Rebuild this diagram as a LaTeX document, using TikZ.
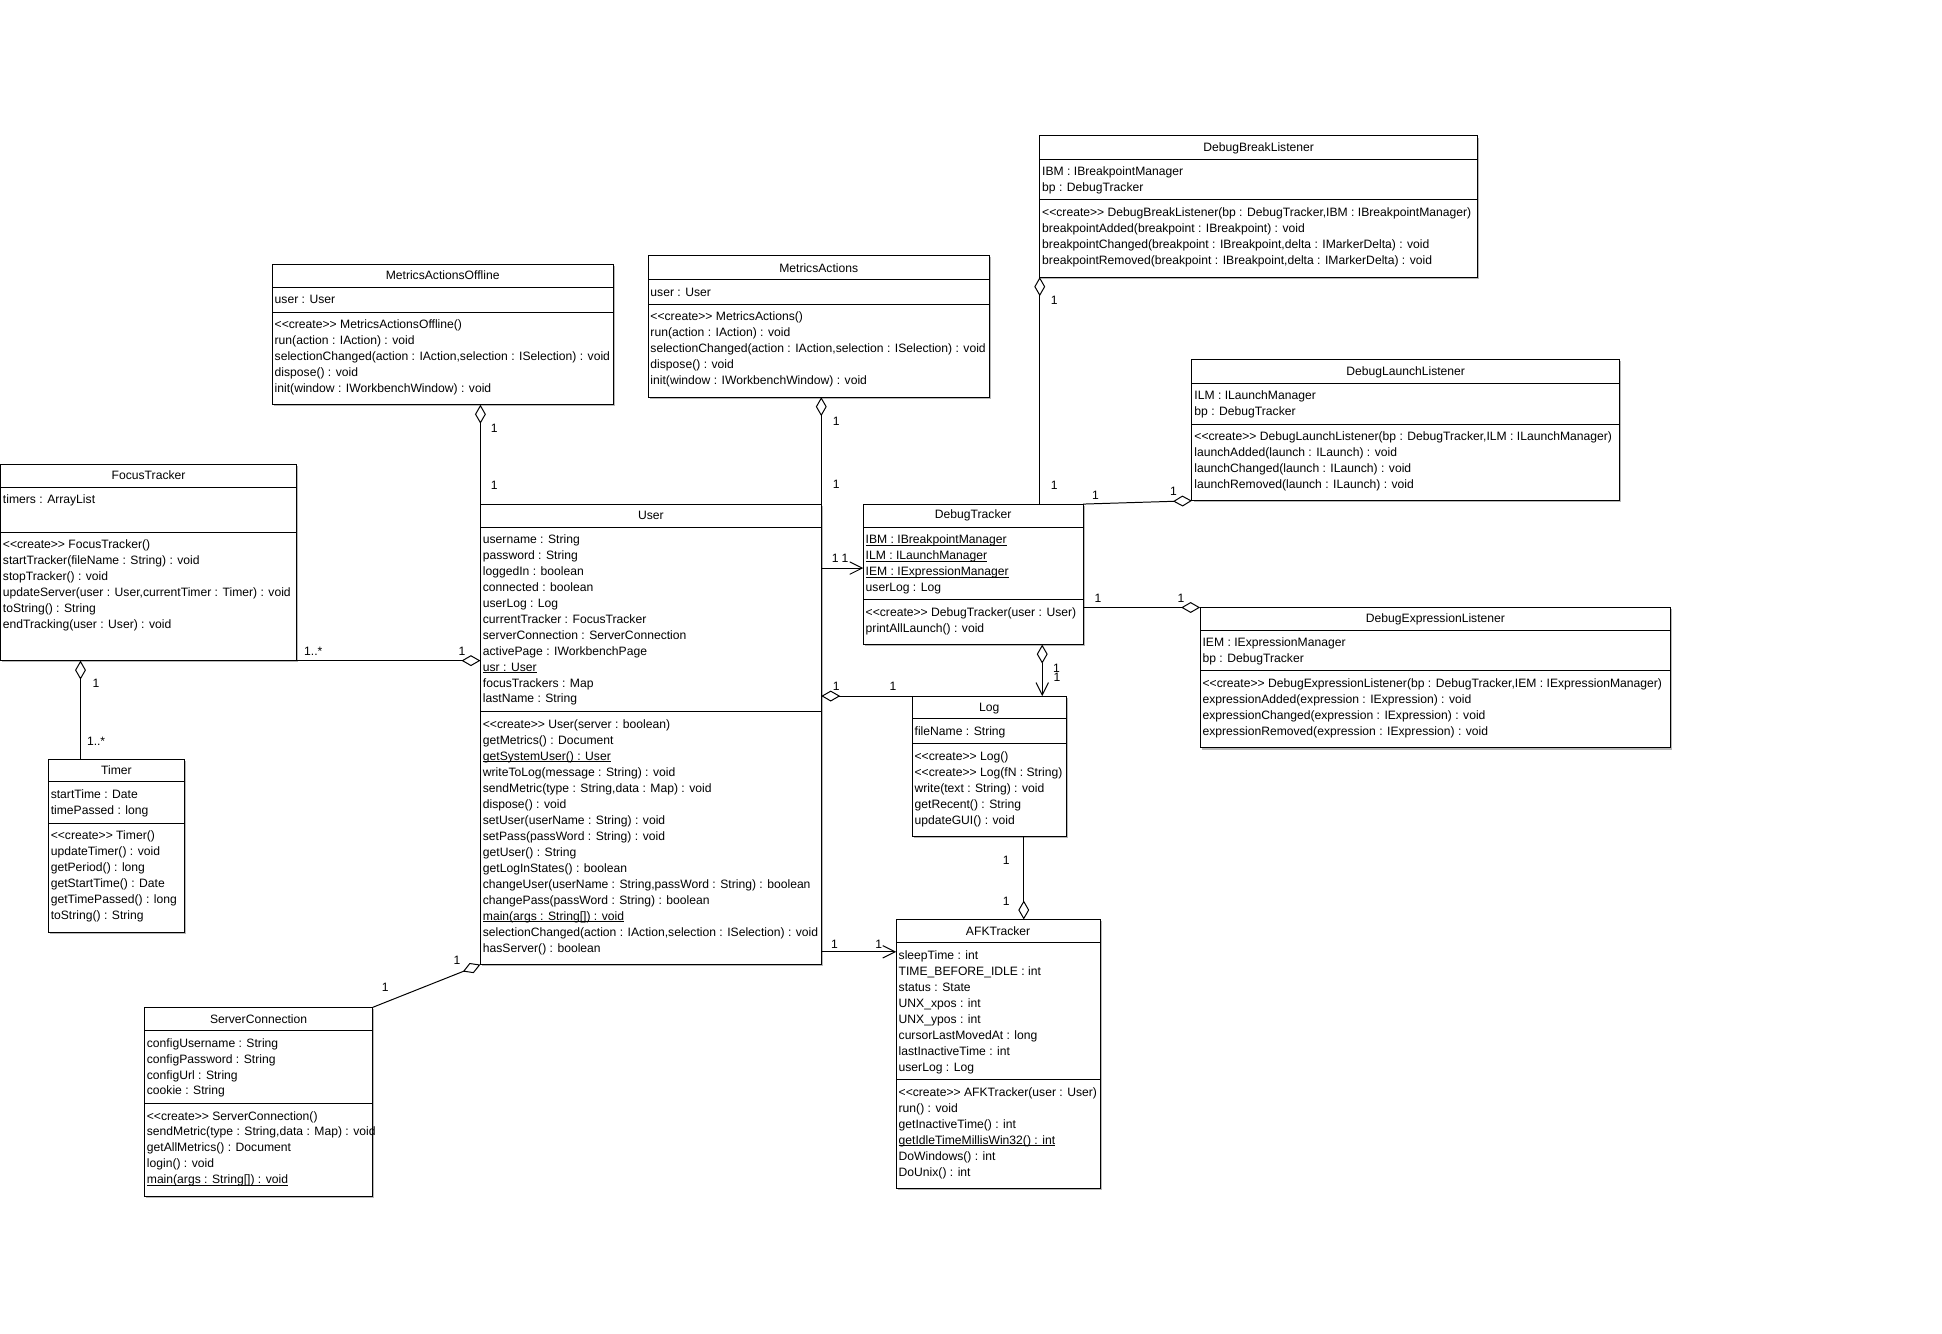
\documentclass[tikz,border=0pt]{standalone}
\usepackage{fontspec}
\setmainfont{Liberation Sans}
\usetikzlibrary{arrows.meta}

\newcommand\ulx[1]{\setbox0\hbox{#1}\rlap{\rule[-1.5pt]{\wd0}{0.7pt}}\box0}
\newcommand\crt{<\kern0pt<create>\kern0pt>}

\tikzset{
  every node/.style={font=\fontsize{9.8}{12.9}\selectfont, inner sep=0pt, outer sep=0pt},
  classbox/.style={draw, line width=0.8pt, fill=white, rectangle, inner sep=0pt, outer sep=0pt},
  shadowbox/.style={fill=black!28, draw=none},
  sepline/.style={line width=0.8pt},
  rowtext/.style={anchor=base west},
  titletext/.style={anchor=base},
  conn/.style={line width=0.8pt},
  aggrS/.style={{Diamond[open,length=15.3pt,width=8.8pt]}-},
  aggrE/.style={-{Diamond[open,length=15.3pt,width=8.8pt]}},
  navE/.style={-{Straight Barb[length=10pt,width=10pt]}},
  aggrnav/.style={{Diamond[open,length=15.3pt,width=8.8pt]}-{Straight Barb[length=10pt,width=10pt]}},
  mult/.style={anchor=center},
}

% #1 name, #2 x1, #3 x2, #4 top, #5 sep1, #6 sep2, #7 bottom, #8 title, #9 title centre y
\newcommand\umlclass[9]{%
  \pgfmathsetmacro\cw{#3-#2}%
  \pgfmathsetmacro\ch{#7-#4}%
  \fill[shadowbox] (#2+1.3,#4+1.3) rectangle (#3+1.3,#7+1.3);
  \node[classbox, minimum width=\cw pt, minimum height=\ch pt, anchor=north west] (#1) at (#2,#4) {};
  \draw[sepline] (#2,#5) -- (#3,#5);
  \draw[sepline] (#2,#6) -- (#3,#6);
  \node[titletext] (#1-title) at ({(#2+#3)/2},#9+3.4) {#8};
}
% #1 prefix, #2 box left x, #3 first row centre y, #4 rows
\newcommand\umlrows[4]{%
  \foreach \t [count=\i from 0] in {#4} {
    \node[rowtext] (#1\i) at (#2+2,#3+3.4+\i*12.9) {\t};
  }
}

\begin{document}
\begin{tikzpicture}[x=1pt,y=-1pt]
\fill[white] (0,0) rectangle (1568,1076.3);
\useasboundingbox (0,0) rectangle (1568,1076.3);

% ---------- classes ----------
\umlclass{FT}{0.4}{239.5}{374.7}{393.3}{429.6}{533.4}{FocusTracker}{384}
\umlrows{FT-a}{0.4}{403}{timers : ArrayList}
\umlrows{FT-m}{0.4}{439.5}{\crt{} FocusTracker(), startTracker(fileName : String) : void, stopTracker() : void, {updateServer(user : User,currentTimer : Timer) : void}, toString() : String, endTracking(user : User) : void}

\umlclass{MAO}{219.8}{495}{213.3}{231.9}{252}{326.8}{MetricsActionsOffline}{222.5}
\umlrows{MAO-a}{219.8}{241.6}{user : User}
\umlrows{MAO-m}{219.8}{262}{\crt{} MetricsActionsOffline(), run(action : IAction) : void, {selectionChanged(action : IAction,selection : ISelection) : void}, dispose() : void, init(window : IWorkbenchWindow) : void}

\umlclass{MA}{523.2}{798.9}{206.6}{226}{245.6}{320.7}{MetricsActions}{216.5}
\umlrows{MA-a}{523.2}{235.9}{user : User}
\umlrows{MA-m}{523.2}{255.5}{\crt{} MetricsActions(), run(action : IAction) : void, {selectionChanged(action : IAction,selection : ISelection) : void}, dispose() : void, init(window : IWorkbenchWindow) : void}

\umlclass{User}{387.9}{663.1}{407}{425.6}{574.8}{778.8}{User}{415.9}
\umlrows{User-a}{387.9}{435.2}{username : String, password : String, loggedIn : boolean, connected : boolean, userLog : Log, currentTracker : FocusTracker, serverConnection : ServerConnection, activePage : IWorkbenchPage, \ulx{usr : User}, focusTrackers : Map, lastName : String}
\umlrows{User-m}{387.9}{584.8}{\crt{} User(server : boolean), getMetrics() : Document, \ulx{getSystemUser() : User}, writeToLog(message : String) : void, {sendMetric(type : String,data : Map) : void}, dispose() : void, setUser(userName : String) : void, setPass(passWord : String) : void, getUser() : String, getLogInStates() : boolean, {changeUser(userName : String,passWord : String) : boolean}, changePass(passWord : String) : boolean, \ulx{main(args : String[]) : void}, {selectionChanged(action : IAction,selection : ISelection) : void}, hasServer() : boolean}

\umlclass{DBL}{839.5}{1193}{109.8}{128.6}{161.4}{223.8}{DebugBreakListener}{118.9}
\umlrows{DBL-a}{839.5}{138.5}{IBM : IBreakpointManager, bp : DebugTracker}
\umlrows{DBL-m}{839.5}{171.6}{{\crt{} DebugBreakListener(bp : DebugTracker,IBM : IBreakpointManager)}, breakpointAdded(breakpoint : IBreakpoint) : void, {breakpointChanged(breakpoint : IBreakpoint,delta : IMarkerDelta) : void}, {breakpointRemoved(breakpoint : IBreakpoint,delta : IMarkerDelta) : void}}

\umlclass{DLL}{962.4}{1307.5}{290.5}{309.3}{342.4}{404.3}{DebugLaunchListener}{299.7}
\umlrows{DLL-a}{962.4}{319.3}{ILM : ILaunchManager, bp : DebugTracker}
\umlrows{DLL-m}{962.4}{352.4}{{\crt{} DebugLaunchListener(bp : DebugTracker,ILM : ILaunchManager)}, launchAdded(launch : ILaunch) : void, launchChanged(launch : ILaunch) : void, launchRemoved(launch : ILaunch) : void}

\umlclass{DT}{697}{874.5}{407}{425.5}{484}{520.5}{DebugTracker}{415.6}
\umlrows{DT-a}{697}{435.8}{\ulx{IBM : IBreakpointManager}, \ulx{ILM : ILaunchManager}, \ulx{IEM : IExpressionManager}, userLog : Log}
\umlrows{DT-m}{697}{494.4}{\crt{} DebugTracker(user : User), printAllLaunch() : void}

\umlclass{DEL}{969}{1349}{490.5}{509.3}{541.6}{603.9}{DebugExpressionListener}{499.4}
\umlrows{DEL-a}{969}{518.7}{IEM : IExpressionManager, bp : DebugTracker}
\umlrows{DEL-m}{969}{551.8}{{\crt{} DebugExpressionListener(bp : DebugTracker,IEM : IExpressionManager)}, expressionAdded(expression : IExpression) : void, expressionChanged(expression : IExpression) : void, expressionRemoved(expression : IExpression) : void}

\umlclass{Log}{736.5}{861}{562}{580.5}{600.7}{675.6}{Log}{571.1}
\umlrows{Log-a}{736.5}{590.2}{fileName : String}
\umlrows{Log-m}{736.5}{610.7}{\crt{} Log(), \crt{} Log(fN : String), write(text : String) : void, getRecent() : String, updateGUI() : void}

\umlclass{AFK}{723.6}{888.2}{742.4}{761.3}{871.6}{959.5}{AFKTracker}{751.9}
\umlrows{AFK-a}{723.6}{771.2}{sleepTime : int, TIME\_BEFORE\_IDLE : int, status : State, UNX\_xpos : int, UNX\_ypos : int, cursorLastMovedAt : long, lastInactiveTime : int, userLog : Log}
\umlrows{AFK-m}{723.6}{881.8}{\crt{} AFKTracker(user : User), run() : void, getInactiveTime() : int, \ulx{getIdleTimeMillisWin32() : int}, DoWindows() : int, DoUnix() : int}

\umlclass{Timer}{39}{149}{613}{631.3}{664.6}{752.8}{Timer}{622}
\umlrows{Timer-a}{39}{641.4}{startTime : Date, timePassed : long}
\umlrows{Timer-m}{39}{674.7}{\crt{} Timer(), updateTimer() : void, getPeriod() : long, getStartTime() : Date, getTimePassed() : long, toString() : String}

\umlclass{SC}{116.6}{301}{813.3}{832.1}{891.3}{965.9}{ServerConnection}{822.6}
\umlrows{SC-a}{116.6}{842}{configUsername : String, configPassword : String, configUrl : String, cookie : String}
\umlrows{SC-m}{116.6}{900.9}{\crt{} ServerConnection(), {sendMetric(type : String,data : Map) : void}, getAllMetrics() : Document, login() : void, \ulx{main(args : String[]) : void}}

% ---------- helper coordinates ----------
\coordinate (xFTT) at (65,0);
\coordinate (yUDT) at (0,458.7);
\coordinate (xDTL) at (841.5,0);
\coordinate (xLAF) at (826.6,0);
\coordinate (yUAF) at (0,768.5);

% ---------- connectors ----------
\draw[conn,aggrS] (User.north west |- MAO.south) -- (User.north west);
\node[mult] (m1) at (399,346) {1};
\node[mult] (m2) at (399,392) {1};

\draw[conn,aggrS] (User.north east |- MA.south) -- (User.north east);
\node[mult] (m3) at (675.2,340.3) {1};
\node[mult] (m4) at (675.2,391.4) {1};

\draw[conn,aggrE] (FT.south east) -- (FT.south east -| User.west);
\node[mult] (m5) at (253,526) {1..*};
\node[mult] (m6) at (373,526) {1};

\draw[conn,aggrS] (xFTT |- FT.south) -- (xFTT |- Timer.north);
\node[mult] (m7) at (77.5,551.5) {1};
\node[mult] (m8) at (77.6,598.7) {1..*};

\draw[conn,aggrS] (User.south west) -- (SC.north east);
\node[mult] (m9) at (369,775) {1};
\node[mult] (m10) at (311,797) {1};

\draw[conn,navE] (yUDT -| User.east) -- (yUDT -| DT.west);
\node[mult] (m11) at (674.3,451) {1};
\node[mult] (m12) at (682.3,451) {1};

\draw[conn,aggrS] (Log.north west -| User.east) -- (Log.north west);
\node[mult] (m13) at (675.2,554.5) {1};
\node[mult] (m14) at (721,554.5) {1};

\draw[conn,aggrnav] (xDTL |- DT.south) -- (xDTL |- Log.north);
\node[mult] (m15) at (853,540) {1};
\node[mult] (m16) at (853.5,546.5) {1};

\draw[conn,aggrE] (xLAF |- Log.south) -- (xLAF |- AFK.north);
\node[mult] (m17) at (812.4,694.6) {1};
\node[mult] (m18) at (812.4,727.7) {1};

\draw[conn,navE] (yUAF -| User.east) -- (yUAF -| AFK.west);
\node[mult] (m19) at (673.8,762.6) {1};
\node[mult] (m20) at (709.6,762.6) {1};

\draw[conn,aggrS] (DBL.south west) -- (DBL.south west |- DT.north);
\node[mult] (m21) at (851.2,242.6) {1};
\node[mult] (m22) at (851.2,392.2) {1};

\draw[conn,aggrE] (DT.north east) -- (DLL.south west);
\node[mult] (m23) at (884.5,400.3) {1};
\node[mult] (m24) at (947.4,396.8) {1};

\draw[conn,aggrE] (DT.east |- DEL.north) -- (DEL.north west);
\node[mult] (m25) at (886.6,483) {1};
\node[mult] (m26) at (953.6,483) {1};
\end{tikzpicture}
\end{document}
